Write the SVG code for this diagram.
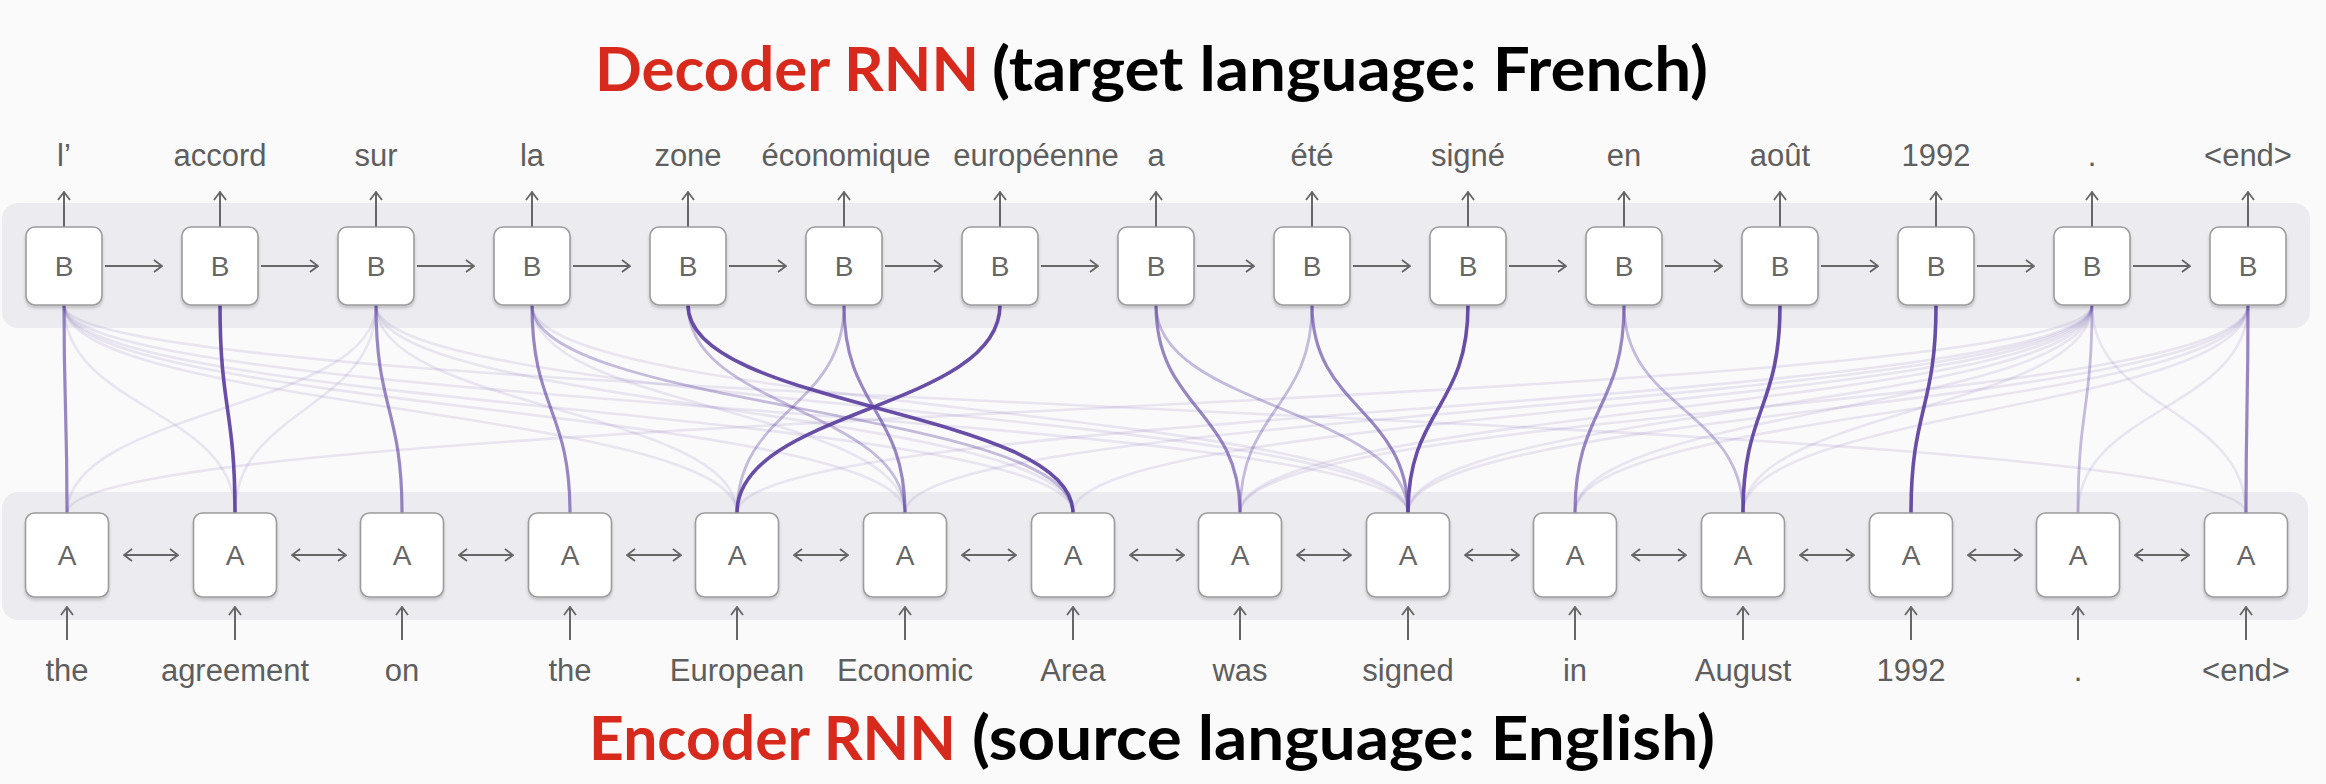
<svg xmlns="http://www.w3.org/2000/svg" width="2326" height="784" viewBox="0 0 2326 784">
<defs>
<style>
.bg{fill:#fafafa}
.panel{fill:#ececf0}
.box{fill:#ffffff;stroke:#9c9c9c;stroke-width:1.6;filter:url(#sh)}
.ltr{font-family:"Liberation Sans",Arial,sans-serif;font-size:28px;fill:#666;text-anchor:middle}
.lbl{font-family:"Liberation Sans",Arial,sans-serif;font-size:31px;fill:#5e5e5e;text-anchor:middle}
.ar{stroke:#666;stroke-width:2;fill:none;marker-end:url(#ah)}
.dar{stroke:#666;stroke-width:2;fill:none;marker-end:url(#ah);marker-start:url(#ah)}
.ttl{font-family:Lato,"Open Sans","Liberation Sans",sans-serif;font-weight:700;font-size:62px}
.red{fill:#d8291d}
.blk{fill:#000}
.c{fill:none;stroke:#5b3fa0}
.s{stroke-width:3.6;stroke-opacity:0.92}
.m{stroke-width:3.2;stroke-opacity:0.62}
.l{stroke-width:2.8;stroke-opacity:0.34}
.f{stroke-width:2.6;stroke-opacity:0.11}
</style>
<filter id="sh" x="-20%" y="-20%" width="140%" height="150%">
<feDropShadow dx="0" dy="2.5" stdDeviation="1.5" flood-color="#000" flood-opacity="0.18"/>
</filter>
<marker id="ah" viewBox="0 0 10 14" refX="9" refY="7" markerWidth="10" markerHeight="14" markerUnits="userSpaceOnUse" orient="auto-start-reverse">
<path d="M1,1 L9,7 L1,13" fill="none" stroke="#666" stroke-width="1.8"/>
</marker>
</defs>
<rect class="bg" x="0" y="0" width="2326" height="784"/>

<g id="titles">
<text class="ttl red" x="595" y="91" textLength="384" lengthAdjust="spacingAndGlyphs">Decoder RNN</text>
<text class="ttl blk" x="992" y="91" textLength="716" lengthAdjust="spacingAndGlyphs">(target language: French)</text>
<text class="ttl red" x="589" y="760" textLength="367" lengthAdjust="spacingAndGlyphs">Encoder RNN</text>
<text class="ttl blk" x="972" y="760" textLength="743" lengthAdjust="spacingAndGlyphs">(source language: English)</text>
</g>

<g id="panels">
<rect class="panel" x="2" y="203" width="2308" height="125" rx="16"/>
<rect class="panel" x="2" y="492" width="2306" height="128" rx="16"/>
</g>

<g id="connectors">
<path class="c f" d="M64 305 C64 409 235 409 235 513"/>
<path class="c f" d="M64 305 C64 409 737 409 737 513"/>
<path class="c f" d="M64 305 C64 409 905 409 905 513"/>
<path class="c f" d="M64 305 C64 409 1073 409 1073 513"/>
<path class="c f" d="M64 305 C64 409 1408 409 1408 513"/>
<path class="c f" d="M64 305 C64 409 2246 409 2246 513"/>
<path class="c f" d="M376 305 C376 409 67 409 67 513"/>
<path class="c f" d="M376 305 C376 409 235 409 235 513"/>
<path class="c f" d="M376 305 C376 409 737 409 737 513"/>
<path class="c f" d="M376 305 C376 409 1073 409 1073 513"/>
<path class="c f" d="M376 305 C376 409 1408 409 1408 513"/>
<path class="c f" d="M532 305 C532 409 905 409 905 513"/>
<path class="c f" d="M532 305 C532 409 1408 409 1408 513"/>
<path class="c f" d="M2092 305 C2092 409 67 409 67 513"/>
<path class="c f" d="M2092 305 C2092 409 737 409 737 513"/>
<path class="c f" d="M2092 305 C2092 409 905 409 905 513"/>
<path class="c f" d="M2092 305 C2092 409 1073 409 1073 513"/>
<path class="c f" d="M2092 305 C2092 409 1240 409 1240 513"/>
<path class="c f" d="M2092 305 C2092 409 1408 409 1408 513"/>
<path class="c f" d="M2092 305 C2092 409 1575 409 1575 513"/>
<path class="c f" d="M2092 305 C2092 409 1743 409 1743 513"/>
<path class="c f" d="M2092 305 C2092 409 2246 409 2246 513"/>
<path class="c f" d="M2248 305 C2248 409 1240 409 1240 513"/>
<path class="c f" d="M2248 305 C2248 409 1408 409 1408 513"/>
<path class="c f" d="M2248 305 C2248 409 1575 409 1575 513"/>
<path class="c f" d="M2248 305 C2248 409 1743 409 1743 513"/>
<path class="c f" d="M2248 305 C2248 409 2078 409 2078 513"/>
<path class="c l" d="M532 305 C532 409 1073 409 1073 513"/>
<path class="c l" d="M688 305 C688 409 905 409 905 513"/>
<path class="c l" d="M844 305 C844 409 737 409 737 513"/>
<path class="c l" d="M1156 305 C1156 409 1408 409 1408 513"/>
<path class="c l" d="M1624 305 C1624 409 1743 409 1743 513"/>
<path class="c l" d="M2092 305 C2092 409 2078 409 2078 513"/>
<path class="c l" d="M1312 305 C1312 409 1240 409 1240 513"/>
<path class="c m" d="M64 305 C64 409 67 409 67 513"/>
<path class="c m" d="M376 305 C376 409 402 409 402 513"/>
<path class="c m" d="M532 305 C532 409 570 409 570 513"/>
<path class="c m" d="M844 305 C844 409 905 409 905 513"/>
<path class="c m" d="M1156 305 C1156 409 1240 409 1240 513"/>
<path class="c m" d="M1312 305 C1312 409 1408 409 1408 513"/>
<path class="c m" d="M1624 305 C1624 409 1575 409 1575 513"/>
<path class="c m" d="M2248 305 C2248 409 2246 409 2246 513"/>
<path class="c s" d="M220 305 C220 409 235 409 235 513"/>
<path class="c s" d="M688 305 C688 409 1073 409 1073 513"/>
<path class="c s" d="M1000 305 C1000 409 737 409 737 513"/>
<path class="c s" d="M1468 305 C1468 409 1408 409 1408 513"/>
<path class="c s" d="M1780 305 C1780 409 1743 409 1743 513"/>
<path class="c s" d="M1936 305 C1936 409 1911 409 1911 513"/>
<path class="ar" d="M64 227 V192"/><path class="ar" d="M220 227 V192"/><path class="ar" d="M376 227 V192"/><path class="ar" d="M532 227 V192"/><path class="ar" d="M688 227 V192"/><path class="ar" d="M844 227 V192"/><path class="ar" d="M1000 227 V192"/><path class="ar" d="M1156 227 V192"/><path class="ar" d="M1312 227 V192"/><path class="ar" d="M1468 227 V192"/><path class="ar" d="M1624 227 V192"/><path class="ar" d="M1780 227 V192"/><path class="ar" d="M1936 227 V192"/><path class="ar" d="M2092 227 V192"/><path class="ar" d="M2248 227 V192"/>
<path class="ar" d="M105 266 H162"/><path class="ar" d="M261 266 H318"/><path class="ar" d="M417 266 H474"/><path class="ar" d="M573 266 H630"/><path class="ar" d="M729 266 H786"/><path class="ar" d="M885 266 H942"/><path class="ar" d="M1041 266 H1098"/><path class="ar" d="M1197 266 H1254"/><path class="ar" d="M1353 266 H1410"/><path class="ar" d="M1509 266 H1566"/><path class="ar" d="M1665 266 H1722"/><path class="ar" d="M1821 266 H1878"/><path class="ar" d="M1977 266 H2034"/><path class="ar" d="M2133 266 H2190"/>
<path class="dar" d="M124 555 H178"/><path class="dar" d="M292 555 H346"/><path class="dar" d="M459 555 H513"/><path class="dar" d="M627 555 H681"/><path class="dar" d="M794 555 H848"/><path class="dar" d="M962 555 H1016"/><path class="dar" d="M1130 555 H1184"/><path class="dar" d="M1297 555 H1351"/><path class="dar" d="M1465 555 H1519"/><path class="dar" d="M1632 555 H1686"/><path class="dar" d="M1800 555 H1854"/><path class="dar" d="M1968 555 H2022"/><path class="dar" d="M2135 555 H2189"/>
<path class="ar" d="M67 640 V607"/><path class="ar" d="M235 640 V607"/><path class="ar" d="M402 640 V607"/><path class="ar" d="M570 640 V607"/><path class="ar" d="M737 640 V607"/><path class="ar" d="M905 640 V607"/><path class="ar" d="M1073 640 V607"/><path class="ar" d="M1240 640 V607"/><path class="ar" d="M1408 640 V607"/><path class="ar" d="M1575 640 V607"/><path class="ar" d="M1743 640 V607"/><path class="ar" d="M1911 640 V607"/><path class="ar" d="M2078 640 V607"/><path class="ar" d="M2246 640 V607"/>
</g>

<g id="decoder-nodes">
<g id="B1"><rect class="box" x="26" y="227" width="76" height="78" rx="9"/><text class="ltr" x="64" y="276">B</text><text class="lbl" x="64" y="166">l’</text></g>
<g id="B2"><rect class="box" x="182" y="227" width="76" height="78" rx="9"/><text class="ltr" x="220" y="276">B</text><text class="lbl" x="220" y="166">accord</text></g>
<g id="B3"><rect class="box" x="338" y="227" width="76" height="78" rx="9"/><text class="ltr" x="376" y="276">B</text><text class="lbl" x="376" y="166">sur</text></g>
<g id="B4"><rect class="box" x="494" y="227" width="76" height="78" rx="9"/><text class="ltr" x="532" y="276">B</text><text class="lbl" x="532" y="166">la</text></g>
<g id="B5"><rect class="box" x="650" y="227" width="76" height="78" rx="9"/><text class="ltr" x="688" y="276">B</text><text class="lbl" x="688" y="166">zone</text></g>
<g id="B6"><rect class="box" x="806" y="227" width="76" height="78" rx="9"/><text class="ltr" x="844" y="276">B</text><text class="lbl" x="846" y="166">économique</text></g>
<g id="B7"><rect class="box" x="962" y="227" width="76" height="78" rx="9"/><text class="ltr" x="1000" y="276">B</text><text class="lbl" x="1036" y="166">européenne</text></g>
<g id="B8"><rect class="box" x="1118" y="227" width="76" height="78" rx="9"/><text class="ltr" x="1156" y="276">B</text><text class="lbl" x="1156" y="166">a</text></g>
<g id="B9"><rect class="box" x="1274" y="227" width="76" height="78" rx="9"/><text class="ltr" x="1312" y="276">B</text><text class="lbl" x="1312" y="166">été</text></g>
<g id="B10"><rect class="box" x="1430" y="227" width="76" height="78" rx="9"/><text class="ltr" x="1468" y="276">B</text><text class="lbl" x="1468" y="166">signé</text></g>
<g id="B11"><rect class="box" x="1586" y="227" width="76" height="78" rx="9"/><text class="ltr" x="1624" y="276">B</text><text class="lbl" x="1624" y="166">en</text></g>
<g id="B12"><rect class="box" x="1742" y="227" width="76" height="78" rx="9"/><text class="ltr" x="1780" y="276">B</text><text class="lbl" x="1780" y="166">août</text></g>
<g id="B13"><rect class="box" x="1898" y="227" width="76" height="78" rx="9"/><text class="ltr" x="1936" y="276">B</text><text class="lbl" x="1936" y="166">1992</text></g>
<g id="B14"><rect class="box" x="2054" y="227" width="76" height="78" rx="9"/><text class="ltr" x="2092" y="276">B</text><text class="lbl" x="2092" y="166">.</text></g>
<g id="B15"><rect class="box" x="2210" y="227" width="76" height="78" rx="9"/><text class="ltr" x="2248" y="276">B</text><text class="lbl" x="2248" y="166">&lt;end&gt;</text></g>
</g>

<g id="encoder-nodes">
<g id="A1"><rect class="box" x="25.5" y="513" width="83" height="84" rx="9"/><text class="ltr" x="67" y="565">A</text><text class="lbl" x="67" y="681">the</text></g>
<g id="A2"><rect class="box" x="193.5" y="513" width="83" height="84" rx="9"/><text class="ltr" x="235" y="565">A</text><text class="lbl" x="235" y="681">agreement</text></g>
<g id="A3"><rect class="box" x="360.5" y="513" width="83" height="84" rx="9"/><text class="ltr" x="402" y="565">A</text><text class="lbl" x="402" y="681">on</text></g>
<g id="A4"><rect class="box" x="528.5" y="513" width="83" height="84" rx="9"/><text class="ltr" x="570" y="565">A</text><text class="lbl" x="570" y="681">the</text></g>
<g id="A5"><rect class="box" x="695.5" y="513" width="83" height="84" rx="9"/><text class="ltr" x="737" y="565">A</text><text class="lbl" x="737" y="681">European</text></g>
<g id="A6"><rect class="box" x="863.5" y="513" width="83" height="84" rx="9"/><text class="ltr" x="905" y="565">A</text><text class="lbl" x="905" y="681">Economic</text></g>
<g id="A7"><rect class="box" x="1031.5" y="513" width="83" height="84" rx="9"/><text class="ltr" x="1073" y="565">A</text><text class="lbl" x="1073" y="681">Area</text></g>
<g id="A8"><rect class="box" x="1198.5" y="513" width="83" height="84" rx="9"/><text class="ltr" x="1240" y="565">A</text><text class="lbl" x="1240" y="681">was</text></g>
<g id="A9"><rect class="box" x="1366.5" y="513" width="83" height="84" rx="9"/><text class="ltr" x="1408" y="565">A</text><text class="lbl" x="1408" y="681">signed</text></g>
<g id="A10"><rect class="box" x="1533.5" y="513" width="83" height="84" rx="9"/><text class="ltr" x="1575" y="565">A</text><text class="lbl" x="1575" y="681">in</text></g>
<g id="A11"><rect class="box" x="1701.5" y="513" width="83" height="84" rx="9"/><text class="ltr" x="1743" y="565">A</text><text class="lbl" x="1743" y="681">August</text></g>
<g id="A12"><rect class="box" x="1869.5" y="513" width="83" height="84" rx="9"/><text class="ltr" x="1911" y="565">A</text><text class="lbl" x="1911" y="681">1992</text></g>
<g id="A13"><rect class="box" x="2036.5" y="513" width="83" height="84" rx="9"/><text class="ltr" x="2078" y="565">A</text><text class="lbl" x="2078" y="681">.</text></g>
<g id="A14"><rect class="box" x="2204.5" y="513" width="83" height="84" rx="9"/><text class="ltr" x="2246" y="565">A</text><text class="lbl" x="2246" y="681">&lt;end&gt;</text></g>
</g>
</svg>
